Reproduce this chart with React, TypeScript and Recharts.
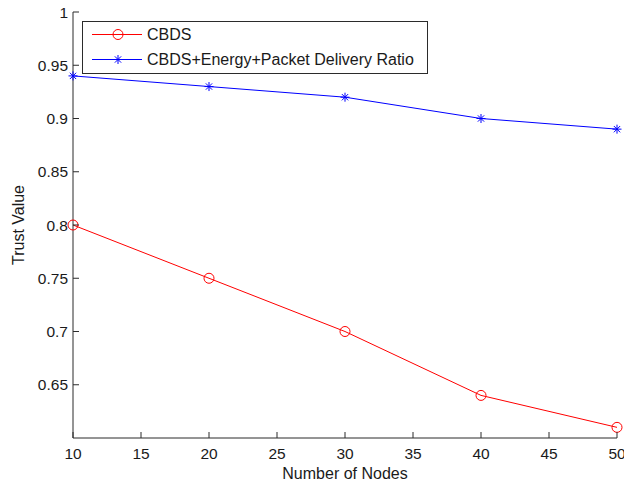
import { LineChart, Line, XAxis, YAxis, Legend } from 'recharts';

const nodes = [10, 20, 30, 40, 50];
const cbds = [0.8, 0.75, 0.7, 0.64, 0.61];
const cbdsEnergyPdr = [0.94, 0.93, 0.92, 0.9, 0.89];

const xTicks = [10, 15, 20, 25, 30, 35, 40, 45, 50];
const yTicks = [0.65, 0.7, 0.75, 0.8, 0.85, 0.9, 0.95, 1];

const seriesNames = ['CBDS', 'CBDS+Energy+Packet Delivery Ratio'];

const data = nodes.map((n, i) => ({ nodes: n, cbds: cbds[i], energy: cbdsEnergyPdr[i] }));

const FONT = '"Liberation Sans", Arial, sans-serif';
const AXIS = '#2b2b2b';
const TEXT = '#1a1a1a';
const TICK_LEN = 6;

const fmt = (v: number) => String(Math.round(v * 100) / 100);

const BottomTick = ({ x, y, payload }: any) => (
  <g>
    <line x1={x} x2={x} y1={y} y2={y - TICK_LEN} stroke={AXIS} />
    <text x={x} y={y + 21} textAnchor="middle" fontSize={15.5} fontFamily={FONT} fill={TEXT}>
      {payload.value}
    </text>
  </g>
);

const TopTick = ({ x, y }: any) => <line x1={x} x2={x} y1={y} y2={y + TICK_LEN} stroke={AXIS} />;

const LeftTick = ({ x, y, payload }: any) => (
  <g>
    <line x1={x} x2={x + TICK_LEN} y1={y} y2={y} stroke={AXIS} />
    <text x={x - 5} y={y + 5.5} textAnchor="end" fontSize={15.5} fontFamily={FONT} fill={TEXT}>
      {fmt(payload.value)}
    </text>
  </g>
);

const RightTick = ({ x, y }: any) => <line x1={x} x2={x - TICK_LEN} y1={y} y2={y} stroke={AXIS} />;

const CircleDot = ({ cx, cy }: any) => (
  <circle cx={cx} cy={cy} r={5} fill="none" stroke="#ff0000" strokeWidth={1} />
);

const StarDot = ({ cx, cy }: any) => {
  const s = 4.5;
  const d = s * 0.7;
  return (
    <g stroke="#0000ff" strokeWidth={1}>
      <line x1={cx - s} x2={cx + s} y1={cy} y2={cy} />
      <line x1={cx} x2={cx} y1={cy - s} y2={cy + s} />
      <line x1={cx - d} x2={cx + d} y1={cy - d} y2={cy + d} />
      <line x1={cx - d} x2={cx + d} y1={cy + d} y2={cy - d} />
    </g>
  );
};

const LegendBox = () => (
  <svg width={346} height={53} style={{ display: 'block' }}>
    <rect x={0.5} y={0.5} width={345} height={52} fill="#fff" stroke={AXIS} />
    <line x1={10} x2={60} y1={13.5} y2={13.5} stroke="#ff0000" />
    <CircleDot cx={36} cy={13.5} />
    <text x={65} y={19} fontSize={16} fontFamily={FONT} fill={TEXT}>{seriesNames[0]}</text>
    <line x1={10} x2={60} y1={38.5} y2={38.5} stroke="#0000ff" />
    <StarDot cx={36} cy={38.5} />
    <text x={65} y={44} fontSize={16} fontFamily={FONT} fill={TEXT}>{seriesNames[1]}</text>
  </svg>
);

export default function App() {
  return (
    <div style={{ position: 'absolute', left: 0, top: 0, width: 624, height: 483, background: '#fff' }}>
      <LineChart width={624} height={483} data={data} margin={{ top: 12, right: 7, left: 0, bottom: 0 }}>
        <XAxis
          dataKey="nodes"
          type="number"
          domain={[10, 50]}
          ticks={xTicks}
          height={45}
          tickSize={0}
          tickMargin={0}
          tickLine={false}
          axisLine={{ stroke: AXIS }}
          tick={<BottomTick />}
          interval={0}
          label={{
            value: 'Number of Nodes',
            position: 'insideBottom',
            offset: 4,
            style: { fontSize: 16, fontFamily: FONT, fill: TEXT },
          }}
        />
        <XAxis
          xAxisId="top"
          orientation="top"
          dataKey="nodes"
          type="number"
          domain={[10, 50]}
          ticks={xTicks}
          height={0}
          tickSize={0}
          tickMargin={0}
          tickLine={false}
          axisLine={{ stroke: AXIS }}
          tick={<TopTick />}
          interval={0}
        />
        <YAxis
          type="number"
          domain={[0.6, 1]}
          ticks={yTicks}
          width={73}
          tickSize={0}
          tickMargin={0}
          tickLine={false}
          axisLine={{ stroke: AXIS }}
          tick={<LeftTick />}
          interval={0}
          label={{
            value: 'Trust Value',
            angle: -90,
            position: 'insideLeft',
            offset: 18,
            style: { fontSize: 16, fontFamily: FONT, fill: TEXT, textAnchor: 'middle' },
          }}
        />
        <YAxis
          yAxisId="right"
          orientation="right"
          type="number"
          domain={[0.6, 1]}
          ticks={yTicks}
          width={0}
          tickSize={0}
          tickMargin={0}
          tickLine={false}
          axisLine={{ stroke: AXIS }}
          tick={<RightTick />}
          interval={0}
        />
        <Legend
          layout="vertical"
          align="center"
          verticalAlign="middle"
          wrapperStyle={{ top: 21, left: 82, width: 346, height: 53 }}
          content={() => <LegendBox />}
        />
        <Line
          dataKey="cbds"
          name={seriesNames[0]}
          stroke="#ff0000"
          strokeWidth={1}
          dot={<CircleDot />}
          activeDot={false}
          isAnimationActive={false}
        />
        <Line
          dataKey="energy"
          name={seriesNames[1]}
          stroke="#0000ff"
          strokeWidth={1}
          dot={<StarDot />}
          activeDot={false}
          isAnimationActive={false}
        />
      </LineChart>
    </div>
  );
}
